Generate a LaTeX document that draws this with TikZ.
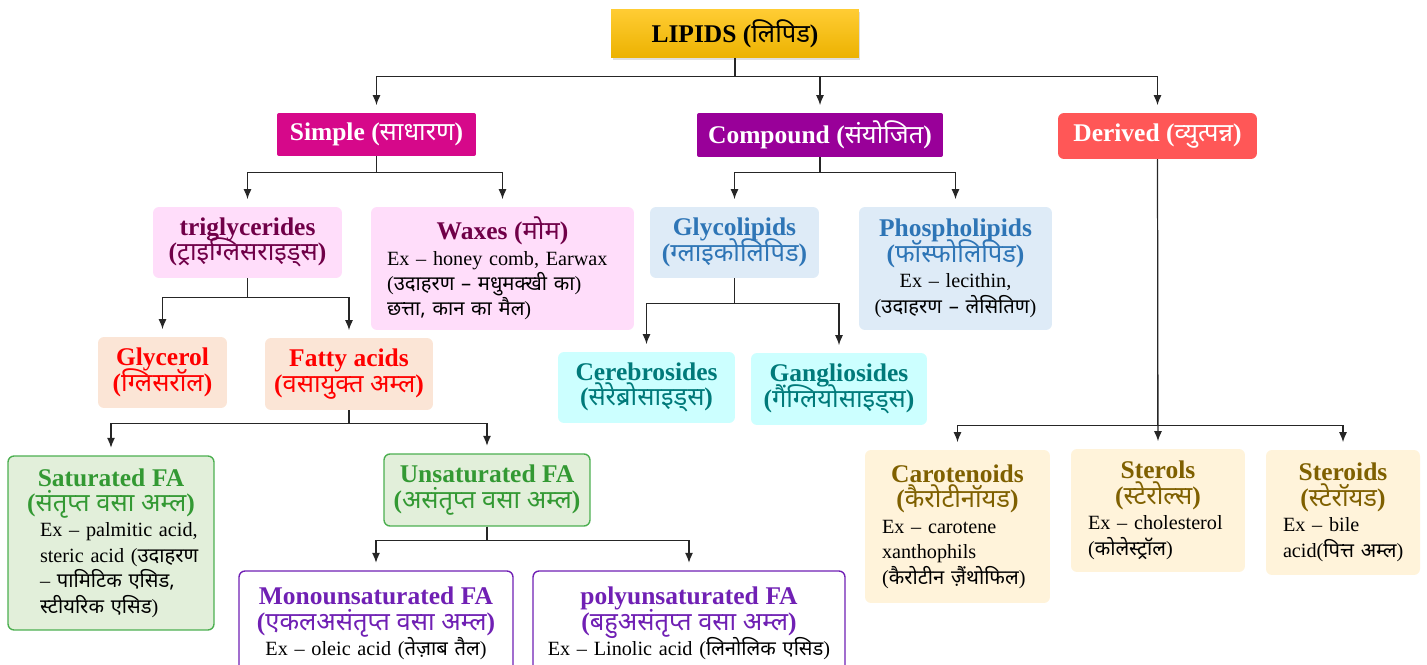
\documentclass[tikz,border=0pt]{standalone}
\usepackage{fontspec}
\setmainfont{Liberation Serif}
\newfontfamily\dv[Script=Devanagari]{Noto Sans}
\usetikzlibrary{arrows.meta,shadows}
\definecolor{simplec}{RGB}{214,8,138}
\definecolor{compc}{RGB}{153,0,153}
\definecolor{derc}{RGB}{255,87,87}
\definecolor{pkfill}{RGB}{255,221,250}
\definecolor{pktext}{RGB}{112,0,72}
\definecolor{orfill}{RGB}{251,229,214}
\definecolor{grfill}{RGB}{226,239,218}
\definecolor{grline}{RGB}{76,175,80}
\definecolor{grtext}{RGB}{51,153,51}
\definecolor{blfill}{RGB}{222,235,247}
\definecolor{bltext}{RGB}{46,117,182}
\definecolor{cyfill}{RGB}{204,255,255}
\definecolor{cytext}{RGB}{0,122,122}
\definecolor{vitext}{RGB}{112,32,180}
\definecolor{yefill}{RGB}{255,243,218}
\definecolor{yetext}{RGB}{127,96,0}
\newcommand\hi[1]{{\dv #1}}
\newcommand\hd{\fontsize{14.5}{14.5}\selectfont\bfseries\lineskiplimit=-20pt}
\newcommand\bd{\fontsize{11.5}{14.5}\selectfont\lineskiplimit=-20pt}
\newcommand\headln[1]{\hbox to\hsize{\hss\hd #1\hss}}
\newcommand\leftln[1]{\hbox to\hsize{\color{black}#1\hss}}
\newcommand\centln[1]{\hbox to\hsize{\hss\color{black}#1\hss}}

\begin{document}
\begin{tikzpicture}[x=0.02cm,y=-0.02cm,
  box/.style={rounded corners=0.12cm, inner sep=2pt, align=center, font=\hd},
  txt/.style={font=\bd},
  cat/.style={box, text=white, rounded corners=0.04cm},
  pk/.style={box, fill=pkfill, text=pktext},
  orb/.style={box, fill=orfill, text=red},
  grb/.style={box, fill=grfill, draw=grline, line width=0.8pt, text=grtext},
  blb/.style={box, fill=blfill, text=bltext},
  cyb/.style={box, fill=cyfill, text=cytext},
  vib/.style={box, fill=white, draw=vitext, line width=0.8pt, text=vitext},
  yeb/.style={box, fill=yefill, text=yetext},
  arr/.style={-{Latex[length=0.2cm,width=0.16cm]}, draw=black!85, line width=0.7pt, shorten >=0.15cm}]
\useasboundingbox (0,0) rectangle (1427,665);

\node[box, rounded corners=0, top color={rgb,255:red,255;green,204;blue,51}, bottom color={rgb,255:red,236;green,178;blue,0}, drop shadow={opacity=0.25, shadow xshift=0.03cm, shadow yshift=-0.04cm}, minimum width=4.96cm, minimum height=0.96cm] (lipids) at (735,34) {LIPIDS (\hi{लिपिड})};

\node[cat, fill=simplec, minimum width=3.98cm, minimum height=0.86cm] (simple) at (376.5,134.5) {Simple (\hi{साधारण})};
\node[cat, fill=compc, minimum width=4.92cm, minimum height=0.88cm] (compound) at (820,135) {Compound (\hi{संयोजित})};
\node[cat, fill=derc, rounded corners=0.12cm, minimum width=3.98cm, minimum height=0.92cm] (derived) at (1157.5,136) {Derived (\hi{व्युत्पन्न})};

\node[pk, minimum width=3.78cm, minimum height=1.42cm] (trig) at (247.5,242.5) {triglycerides\\(\hi{ट्राइग्लिसराइड्स})};
\node[pk, txt, minimum width=5.26cm, minimum height=2.46cm, text width=4.62cm] (wax) at (502.5,268.5) {\vbox{\headln{Waxes (\hi{मोम})}\leftln{Ex – honey comb, Earwax}\leftln{(\hi{उदाहरण – मधुमक्खी का})}\leftln{\hi{छत्ता, कान का मैल})}}};
\node[blb, minimum width=3.38cm, minimum height=1.42cm] (glyco) at (734.5,242.5) {Glycolipids\\(\hi{ग्लाइकोलिपिड})};
\node[blb, txt, minimum width=3.86cm, minimum height=2.46cm, text width=3.6cm] (phospho) at (955.5,268.5) {\vbox{\headln{Phospholipids}\headln{(\hi{फॉस्फोलिपिड})}\centln{Ex – lecithin,}\centln{(\hi{उदाहरण – लेसितिण})}}};

\node[orb, minimum width=2.58cm, minimum height=1.42cm] (glycerol) at (162.5,372.5) {Glycerol\\(\hi{ग्लिसरॉल})};
\node[orb, minimum width=3.36cm, minimum height=1.44cm] (fatty) at (349,374) {Fatty acids\\(\hi{वसायुक्त अम्ल})};
\node[cyb, minimum width=3.54cm, minimum height=1.42cm] (cereb) at (646.5,387.5) {Cerebrosides\\(\hi{सेरेब्रोसाइड्स})};
\node[cyb, minimum width=3.52cm, minimum height=1.44cm] (gangl) at (839,389) {Gangliosides\\(\hi{गैंग्लियोसाइड्स})};

\node[grb, txt, minimum width=4.12cm, minimum height=3.48cm, text width=2.84cm] (sat) at (111,543) {\vbox{\headln{Saturated FA}\headln{(\hi{संतृप्त वसा अम्ल})}\leftln{Ex – palmitic acid,}\leftln{steric acid (\hi{उदाहरण}}\leftln{– \hi{पामिटिक एसिड,}}\leftln{\hi{स्टीयरिक एसिड})}}};
\node[grb, minimum width=4.12cm, minimum height=1.44cm] (unsat) at (487,490) {Unsaturated FA\\(\hi{असंतृप्त वसा अम्ल})};
\node[vib, txt, minimum width=5.48cm, minimum height=2.1cm, text width=5.2cm] (mono) at (376,623.5) {\vbox{\headln{Monounsaturated FA}\headln{(\hi{एकलअसंतृप्त वसा अम्ल})}\centln{Ex – oleic acid (\hi{तेज़ाब तैल})}}};
\node[vib, txt, minimum width=6.24cm, minimum height=2.1cm, text width=6cm] (poly) at (689,623.5) {\vbox{\headln{polyunsaturated FA}\headln{(\hi{बहुअसंतृप्त वसा अम्ल})}\centln{Ex – Linolic acid (\hi{लिनोलिक एसिड})}}};

\node[yeb, txt, minimum width=3.7cm, minimum height=3.06cm, text width=3.02cm] (carot) at (957.5,526.5) {\vbox{\headln{Carotenoids}\headln{(\hi{कैरोटीनॉयड})}\leftln{Ex – carotene}\leftln{xanthophils}\leftln{(\hi{कैरोटीन ज़ैंथोफिल})}}};
\node[yeb, txt, minimum width=3.48cm, minimum height=2.46cm, text width=2.8cm] (sterols) at (1158,510.5) {\vbox{\headln{Sterols}\headln{(\hi{स्टेरोल्स})}\leftln{Ex – cholesterol}\leftln{(\hi{कोलेस्ट्रॉल})}}};
\node[yeb, txt, minimum width=3.08cm, minimum height=2.5cm, text width=2.4cm] (steroids) at (1343,512.5) {\vbox{\headln{Steroids}\headln{(\hi{स्टेरॉयड})}\leftln{Ex – bile}\leftln{acid(\hi{पित्त अम्ल})}}};

\foreach \a/\b/\d in {lipids/simple/18, lipids/compound/18, lipids/derived/18,
    simple/trig/16, simple/wax/16, compound/glyco/15, compound/phospho/15,
    trig/glycerol/19, trig/fatty/19, glyco/cereb/25, glyco/gangl/25,
    fatty/sat/13, fatty/unsat/13, unsat/mono/14, unsat/poly/14,
    derived/carot/266, derived/steroids/266}
  \draw[arr] (\a.south) -- ++(0,\d) -| (\b.north);
\draw[arr] (derived.south) -- (sterols.north);
\end{tikzpicture}
\end{document}
